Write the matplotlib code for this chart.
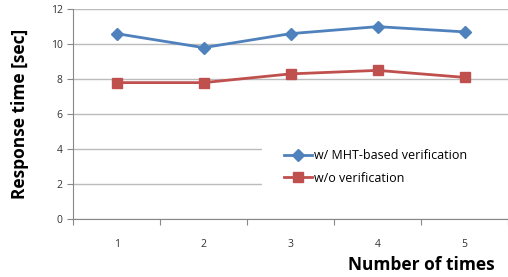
import matplotlib.pyplot as plt
import numpy as np

plt.rcParams['font.family'] = ['Open Sans', 'DejaVu Sans']

runs = [1, 2, 3, 4, 5]
with_mht = [10.6, 9.8, 10.6, 11.0, 10.7]
without_ver = [7.8, 7.8, 8.3, 8.5, 8.1]
yticks = [0, 2, 4, 6, 8, 10, 12]

fig = plt.figure(figsize=(5.08, 2.77), dpi=100)
ax = fig.add_axes([0.144, 0.209, 0.856, 0.758])

ax.plot(runs, with_mht, color='#4F81BD', lw=2, marker='D', ms=6,
        label='w/ MHT-based verification')
ax.plot(runs, without_ver, color='#C0504D', lw=2, marker='s', ms=7,
        label='w/o verification')

ax.set_xlim(0.5, 5.5)
ax.set_ylim(0, 12)
ax.set_yticks(yticks)
ax.set_xticks(np.arange(0.5, 5.6, 1.0))
ax.set_xticklabels([])
ax.set_xticks(runs, minor=True)
ax.set_xticklabels([str(r) for r in runs], minor=True)
ax.tick_params(axis='x', which='minor', length=0, pad=14, labelsize=7.5, colors='#333333')
ax.tick_params(axis='x', which='major', length=4, color='#888888', direction='out')
ax.tick_params(axis='y', length=4, color='#888888', labelsize=7.5, labelcolor='#333333')

ax.grid(axis='y', color='#BBBBBB', lw=1)
ax.set_axisbelow(True)
for s in ['top', 'right']:
    ax.spines[s].set_visible(False)
for s in ['left', 'bottom']:
    ax.spines[s].set_color('#888888')

ax.set_ylabel('Response time [sec]', fontsize=12.5, fontweight='bold', labelpad=16)
ax.set_xlabel('Number of times', fontsize=12.5, fontweight='bold')
ax.xaxis.set_label_coords(0.8, -0.175)

leg = ax.legend(loc='upper left', bbox_to_anchor=(0.434, 0.05, 0.566, 0.39),
                mode='expand', fontsize=9,
                frameon=True, facecolor='white', edgecolor='none', fancybox=False,
                framealpha=1, handlelength=2.2, handletextpad=0.2, labelspacing=0.75,
                borderpad=1.8, borderaxespad=0)

fig.savefig('out.png', dpi=100)
